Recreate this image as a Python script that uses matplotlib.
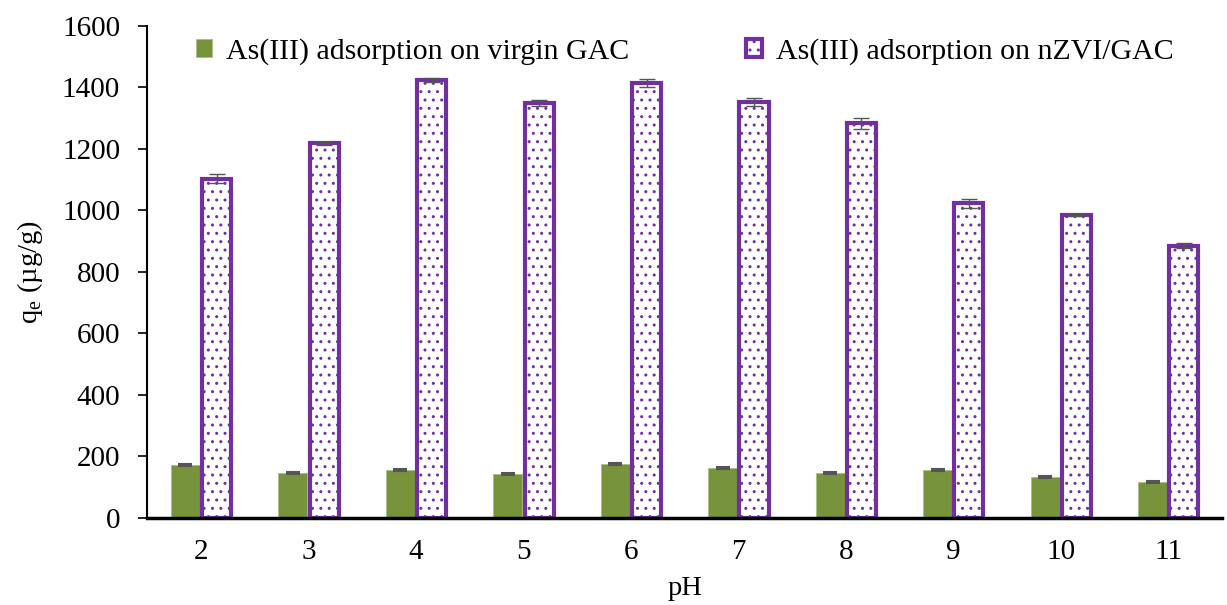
import matplotlib
matplotlib.use("Agg")
import matplotlib.pyplot as plt
import numpy as np

# pH values (categories)
ph_labels = ["2", "3", "4", "5", "6", "7", "8", "9", "10", "11"]

# As(III) adsorption capacity q_e (ug/g)
virgin_gac = [172, 147, 156, 143, 176, 163, 147, 156, 133, 117]
virgin_err = [3, 3, 4, 3, 3, 3, 3, 3, 3, 3]
nzvi_gac = [1103, 1218, 1425, 1349, 1415, 1353, 1284, 1023, 986, 886]
nzvi_err = [15, 6, 7, 10, 14, 14, 18, 14, 4, 7]

GREEN = "#77933C"
PURPLE = "#7030A0"

plt.rcParams["font.family"] = ["Liberation Serif", "DejaVu Serif"]
plt.rcParams["mathtext.fontset"] = "custom"
plt.rcParams["mathtext.rm"] = "Liberation Serif"
plt.rcParams["hatch.color"] = "#8040B8"
plt.rcParams["hatch.linewidth"] = 1.0

fig = plt.figure(figsize=(12.27, 6.05), dpi=100)
ax = fig.add_axes([0.12, 0.144, 0.876, 0.813])

x = np.arange(len(ph_labels))
w = 0.27

ax.bar(x - w / 2 - 0.01, virgin_gac, w, color=GREEN, edgecolor="#A9BF80", linewidth=0.6,
       yerr=virgin_err, error_kw=dict(ecolor="#555555", elinewidth=1, capsize=5, capthick=1.5),
       label="As(III) adsorption on virgin GAC")
ax.bar(x + w / 2 + 0.01, nzvi_gac, w, color="white", edgecolor=PURPLE, linewidth=3, hatch="..",
       yerr=nzvi_err, error_kw=dict(ecolor="#555555", elinewidth=1, capsize=6, capthick=1),
       label="As(III) adsorption on nZVI/GAC")

ax.set_xlim(-0.5, len(ph_labels) - 0.5)
ax.set_ylim(0, 1600)
ax.set_yticks(np.arange(0, 1601, 200))
ax.set_xticks(x)
ax.set_xticklabels(ph_labels)

ax.spines["top"].set_visible(False)
ax.spines["right"].set_visible(False)
ax.spines["left"].set_linewidth(1.5)
ax.spines["bottom"].set_linewidth(2.5)
ax.tick_params(axis="y", direction="out", length=6.5, width=1.2, labelsize=21, pad=13)
ax.tick_params(axis="x", length=0, labelsize=21, pad=15)

ax.set_ylabel(r"q$_\mathregular{e}$ (µg/g)", fontsize=20.5, labelpad=12)
ax.set_xlabel("pH", fontsize=20.5, labelpad=8)

ax.legend(loc="upper center", bbox_to_anchor=(0.5, 1.03), ncol=2, frameon=False,
          fontsize=21.5, handlelength=0.55, handleheight=0.55, handletextpad=0.45,
          columnspacing=3.9)

fig.savefig("out.png", dpi=100, facecolor="white")
